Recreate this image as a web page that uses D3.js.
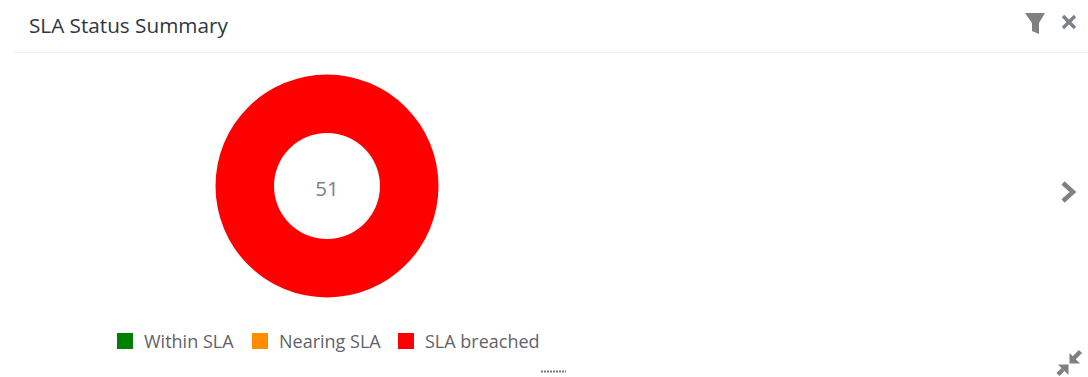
<!DOCTYPE html>
<html><head><meta charset="utf-8">
<script src="https://cdn.jsdelivr.net/npm/d3@7/dist/d3.min.js"></script>
<style>html,body{margin:0;padding:0;background:#fff;overflow:hidden}svg{display:block}text{font-family:"Open Sans",sans-serif}</style>
</head><body><svg id="c" width="1088" height="377"></svg>
<script>
const categories = ["Within SLA","Nearing SLA","SLA breached"];
const seriesValues = [0,0,51];
const seriesColors = ["#008000","#ff8c00","#ff0000"];
const chartTitle = "SLA Status Summary";
const total = d3.sum(seriesValues);

const svg = d3.select("#c");
svg.append("text").attr("x",29).attr("y",33).attr("font-size",20.7).attr("fill","#2f3640").text(chartTitle);
svg.append("line").attr("x1",13).attr("x2",1088).attr("y1",52.5).attr("y2",52.5).attr("stroke","#f0f0f0");

const pie = d3.pie().sort(null).value(d=>d);
const arc = d3.arc().innerRadius(53).outerRadius(111.5);
const g = svg.append("g").attr("transform","translate(327,186)");
g.selectAll("path").data(pie(seriesValues)).join("path").attr("d",arc).attr("fill",(d,i)=>seriesColors[i]);
g.append("text").attr("text-anchor","middle").attr("y",10).attr("font-size",20.5).attr("fill","#808080").text(total);

const legendX = [117,252,398], legendTextX = [144,279,425];
const lg = svg.append("g");
categories.forEach((c,i)=>{
  lg.append("rect").attr("x",legendX[i]).attr("y",333).attr("width",16).attr("height",16).attr("fill",seriesColors[i]);
  lg.append("text").attr("x",legendTextX[i]).attr("y",347.5).attr("font-size",18).attr("fill","#5f6368").text(c);
});

const icon = "#808080";
svg.append("path").attr("d","M1025 13H1045L1039 23V34L1032 31V23Z").attr("fill",icon);
svg.append("path").attr("d","M1063 16L1075 28M1075 16L1063 28").attr("stroke","#7c8288").attr("stroke-width",3.4).attr("fill","none");
svg.append("path").attr("d","M1063 183L1073 192L1063 201").attr("stroke",icon).attr("stroke-width",4.5).attr("fill","none");
svg.append("path").attr("d","M1080.5 351.5L1074 358").attr("stroke",icon).attr("stroke-width",4.5);
svg.append("path").attr("d","M1069.5 353V363.5H1080Z").attr("fill",icon);
svg.append("path").attr("d","M1058 374.5L1063 369.5").attr("stroke",icon).attr("stroke-width",4.5);
svg.append("path").attr("d","M1068.5 364.5H1058L1068.5 375Z").attr("fill",icon);
svg.append("line").attr("x1",541).attr("x2",566).attr("y1",371.5).attr("y2",371.5).attr("stroke","#777").attr("stroke-width",2).attr("stroke-dasharray","2 1");
</script></body></html>
